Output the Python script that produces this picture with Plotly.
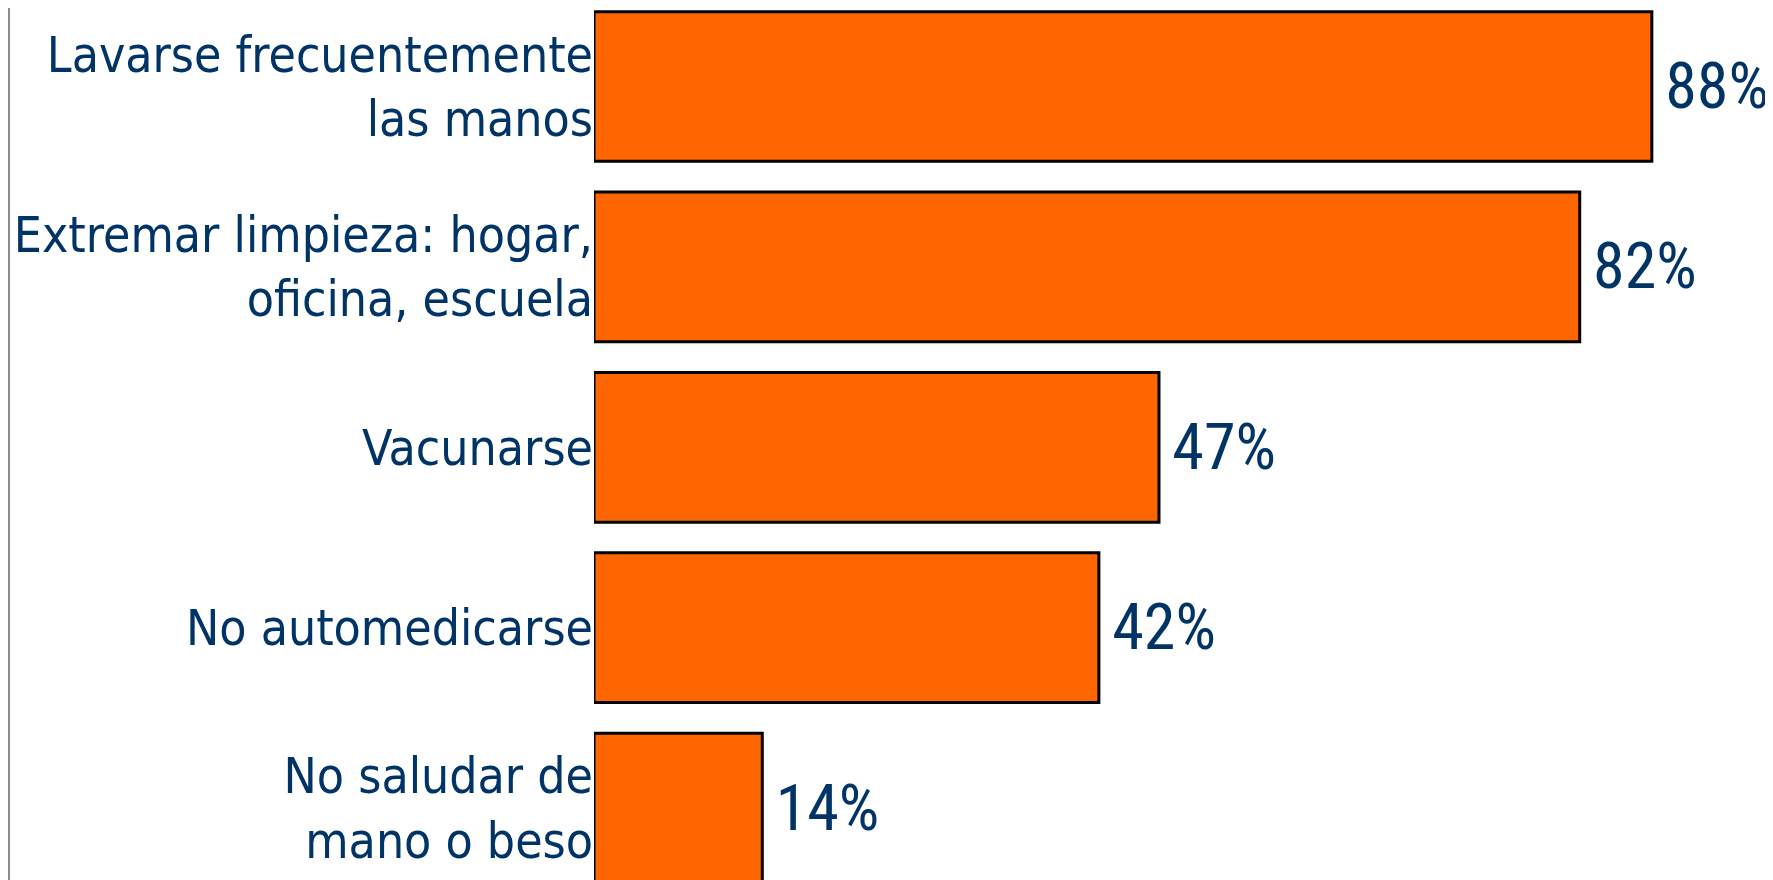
import plotly.graph_objects as go

# categories, top to bottom
measures = [
    "Lavarse frecuentemente<br>las manos",
    "Extremar limpieza: hogar,<br>oficina, escuela",
    "Vacunarse",
    "No automedicarse",
    "No saludar de<br>mano o beso",
]
percent = [88, 82, 47, 42, 14]

navy = "#003366"

# the page body adds an 8px margin, so the figure is a bit smaller than the window
W, H = 1765, 872

fig = go.Figure()

fig.add_trace(go.Bar(
    x=percent,
    y=measures,
    orientation="h",
    width=0.83,
    marker=dict(color="#FF6600", line=dict(color="#000000", width=3)),
    texttemplate="\u2006%{x}%",
    textposition="outside",
    textfont=dict(family="Roboto Condensed, Liberation Sans Narrow, Noto Sans Condensed, Open Sans Condensed, Roboto",
                  size=64, color=navy),
    cliponaxis=False,
))

# thin grey frame line on the left edge
fig.add_shape(
    type="line", xref="paper", yref="paper",
    x0=0.5 / W, x1=0.5 / W, y0=0, y1=1,
    line=dict(color="#8c8c8c", width=3),
)

fig.update_layout(
    width=W,
    height=H,
    margin=dict(l=0, r=0, t=0, b=0),
    paper_bgcolor="white",
    plot_bgcolor="white",
    showlegend=False,
    xaxis=dict(
        domain=[586 / W, 1],
        range=[0, 98.08],
        visible=False,
    ),
    yaxis=dict(
        type="category",
        range=[4.3986, -0.4351],
        showgrid=False,
        showline=False,
        zeroline=False,
        ticks="",
        tickfont=dict(family="DejaVu Sans Condensed, DejaVu Sans", size=49.5, color=navy),
    ),
)

fig.write_html("out.html")
